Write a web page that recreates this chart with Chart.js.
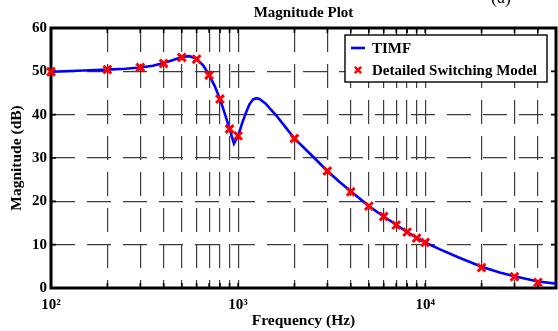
<!DOCTYPE html>
<html>
<head>
<meta charset="utf-8">
<script src="https://cdn.jsdelivr.net/npm/chart.js@4.4.0/dist/chart.umd.min.js"></script>
<style>
  html, body { margin: 0; padding: 0; background: #fff; }
  canvas { display: block; }
</style>
</head>
<body>
<canvas id="bode" width="558" height="331"></canvas>
<script>
// TIMF magnitude response (continuous trace)
const timfFreq = [100, 150, 200, 250, 300, 350, 400, 450, 500, 550, 600, 650, 700, 750, 800, 850, 900, 950,
                  1000, 1050, 1100, 1150, 1200, 1250, 1300, 1400, 1600, 1800, 2000, 2500, 3000, 3500, 4000,
                  5000, 6000, 7000, 8000, 9000, 10000, 12000, 15000, 20000, 25000, 30000, 40000, 50000];
const timfMag  = [49.9, 50.2, 50.4, 50.6, 50.9, 51.3, 51.9, 52.6, 53.3, 53.5, 52.9, 51.4, 49.2, 46.6, 43.6, 40.2, 36.7, 33.3,
                  35.1, 38.0, 40.4, 42.4, 43.5, 43.8, 43.6, 42.6, 39.8, 37.0, 34.5, 30.4, 27.0, 24.4, 22.3,
                  18.9, 16.5, 14.6, 12.9, 11.6, 10.5, 8.9, 7.1, 4.9, 3.6, 2.7, 1.5, 1.0];

// Detailed switching model (discrete measurements)
const switchFreq = [100, 200, 300, 400, 500, 600, 700, 800, 900, 1000, 2000, 3000, 4000, 5000, 6000, 7000, 8000, 9000,
                    10000, 20000, 30000, 40000];
const switchMag  = [49.9, 50.4, 50.9, 51.8, 53.2, 52.8, 49.1, 43.6, 36.7, 35.1, 34.5, 27.0, 22.2, 18.9, 16.5, 14.5, 12.9, 11.5,
                    10.5, 4.7, 2.6, 1.3];

// Axis ticks
const xTickFreq = [100, 200, 300, 400, 500, 600, 700, 800, 900,
                   1000, 2000, 3000, 4000, 5000, 6000, 7000, 8000, 9000,
                   10000, 20000, 30000, 40000, 50000];
const yTickVals = [0, 10, 20, 30, 40, 50, 60];
const decadeLabels = { 100: '10²', 1000: '10³', 10000: '10⁴' };

const SERIF = '"Liberation Serif", "Times New Roman", serif';

// Box around the axes with inward tick marks on all four sides
const axesBox = {
  id: 'axesBox',
  beforeDatasetsDraw(chart) {
    const { ctx, chartArea: { left, right, top, bottom }, scales: { x, y } } = chart;
    ctx.save();
    ctx.strokeStyle = '#000';
    ctx.lineWidth = 1.6;
    ctx.beginPath();
    xTickFreq.forEach(f => {
      const px = x.getPixelForValue(f);
      ctx.moveTo(px, bottom); ctx.lineTo(px, bottom - 5);
      ctx.moveTo(px, top);    ctx.lineTo(px, top + 5);
    });
    yTickVals.forEach(v => {
      const py = y.getPixelForValue(v);
      ctx.moveTo(left, py);  ctx.lineTo(left + 5, py);
      ctx.moveTo(right, py); ctx.lineTo(right - 5, py);
    });
    ctx.stroke();
    ctx.lineWidth = 3;
    ctx.strokeRect(left, top, right - left, bottom - top);
    ctx.restore();
  }
};

// Boxed legend in the upper-right corner of the plot
const boxedLegend = {
  id: 'boxedLegend',
  afterDatasetsDraw(chart) {
    const { ctx, chartArea: { right, top } } = chart;
    const ds = chart.data.datasets;
    const bx = right - 211, by = top + 7, bw = 202, bh = 47;
    ctx.save();
    ctx.fillStyle = '#fff';
    ctx.fillRect(bx, by, bw, bh);
    ctx.strokeStyle = '#000';
    ctx.lineWidth = 1.4;
    ctx.strokeRect(bx, by, bw, bh);

    const row1 = by + 13, row2 = by + 35;
    // line sample
    ctx.strokeStyle = ds[0].borderColor;
    ctx.lineWidth = 2.6;
    ctx.beginPath();
    ctx.moveTo(bx + 6, row1); ctx.lineTo(bx + 20, row1);
    ctx.stroke();
    // cross sample
    const cx = bx + 13, r = 3.2;
    ctx.strokeStyle = ds[1].pointBorderColor;
    ctx.lineWidth = 2.4;
    ctx.beginPath();
    ctx.moveTo(cx - r, row2 - r); ctx.lineTo(cx + r, row2 + r);
    ctx.moveTo(cx - r, row2 + r); ctx.lineTo(cx + r, row2 - r);
    ctx.stroke();

    ctx.fillStyle = '#000';
    ctx.font = 'bold 15px ' + SERIF;
    ctx.textBaseline = 'middle';
    ctx.textAlign = 'left';
    ctx.fillText(ds[0].label, bx + 27, row1 + 1);
    ctx.fillText(ds[1].label, bx + 27, row2 + 1);
    ctx.restore();
  }
};

// Panel tag at the top-right corner
const panelTag = {
  id: 'panelTag',
  afterDraw(chart) {
    const { ctx } = chart;
    ctx.save();
    ctx.fillStyle = '#000';
    ctx.font = '18px ' + SERIF;
    ctx.textBaseline = 'alphabetic';
    ctx.textAlign = 'left';
    ctx.fillText('(a)', 491, 3);
    ctx.restore();
  }
};

const tickFont = { family: SERIF, size: 15, weight: 'bold' };
const gridDash = [24, 12];
const gridColor = '#3c3c3c';

new Chart(document.getElementById('bode'), {
  type: 'line',
  data: {
    datasets: [
      {
        label: 'TIMF',
        data: timfFreq.map((f, i) => ({ x: f, y: timfMag[i] })),
        borderColor: '#0000ff',
        borderWidth: 2.6,
        pointRadius: 0,
        tension: 0,
        fill: false,
        order: 2
      },
      {
        label: 'Detailed Switching Model',
        data: switchFreq.map((f, i) => ({ x: f, y: switchMag[i] })),
        showLine: false,
        pointStyle: 'crossRot',
        pointRadius: 5.5,
        pointBorderWidth: 3,
        pointBorderColor: '#ff0000',
        pointBackgroundColor: '#ff0000',
        borderColor: '#ff0000',
        clip: false,
        order: 1
      }
    ]
  },
  options: {
    responsive: false,
    animation: false,
    events: [],
    layout: { autoPadding: false, padding: { left: 0, right: 2, top: 0, bottom: 0 } },
    plugins: {
      legend: { display: false },
      tooltip: { enabled: false },
      title: {
        display: true,
        text: 'Magnitude Plot',
        fullSize: false,
        color: '#000',
        font: { family: SERIF, size: 15, weight: 'bold', lineHeight: 1.2 },
        padding: { top: 4, bottom: 6 }
      }
    },
    scales: {
      x: {
        type: 'logarithmic',
        min: 100,
        max: 50000,
        afterBuildTicks: s => { s.ticks = xTickFreq.map(v => ({ value: v })); },
        afterFit: s => { s.height = 43; s.paddingLeft = 0; s.paddingRight = 0; },
        ticks: {
          autoSkip: false,
          maxRotation: 0,
          minRotation: 0,
          padding: 0,
          color: '#000',
          font: tickFont,
          callback: v => decadeLabels[v] || ''
        },
        grid: { drawTicks: true, tickLength: 8, tickColor: 'rgba(0,0,0,0)', color: gridColor, lineWidth: 1.2 },
        border: { display: false, dash: gridDash },
        title: {
          display: true,
          text: 'Frequency (Hz)',
          color: '#000',
          font: { family: SERIF, size: 15.5, weight: 'bold', lineHeight: 1.2 },
          padding: { top: 0, bottom: 1 }
        }
      },
      y: {
        min: 0,
        max: 60,
        afterBuildTicks: s => { s.ticks = yTickVals.map(v => ({ value: v })); },
        afterFit: s => { s.width = 51; },
        ticks: { padding: 4, color: '#000', font: tickFont },
        grid: { drawTicks: false, color: gridColor, lineWidth: 1.2 },
        border: { display: false, dash: gridDash },
        title: {
          display: true,
          text: 'Magnitude (dB)',
          color: '#000',
          font: { family: SERIF, size: 15.5, weight: 'bold', lineHeight: 1.2 },
          padding: { top: 8, bottom: 0 }
        }
      }
    }
  },
  plugins: [axesBox, boxedLegend, panelTag]
});
</script>
</body>
</html>
